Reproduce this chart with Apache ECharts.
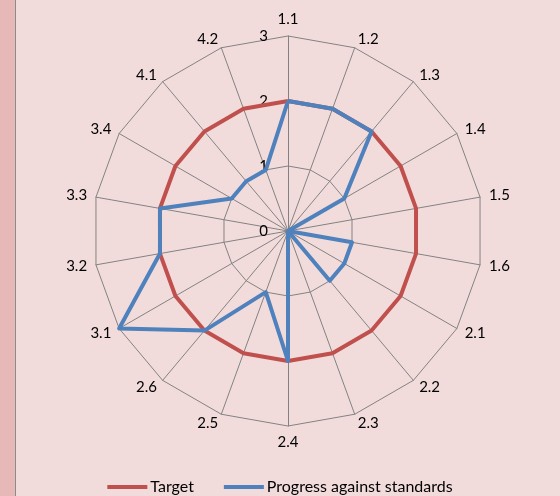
<!DOCTYPE html>
<html>
<head>
<meta charset="utf-8">
<script src="https://cdn.jsdelivr.net/npm/echarts@6/dist/echarts.min.js"></script>
<style>
html,body{margin:0;padding:0;background:#f2dcdb;}
#strip{position:absolute;left:0;top:0;width:15px;height:496px;background:#e6b9b8;border-right:1px solid #8c8c8c;}
#radarChart{position:absolute;left:0;top:0;width:560px;height:496px;}
</style>
</head>
<body>
<div id="strip"></div>
<div id="radarChart"></div>
<script>
var categories = ['1.1','1.2','1.3','1.4','1.5','1.6','2.1','2.2','2.3','2.4','2.5','2.6','3.1','3.2','3.3','3.4','4.1','4.2'];
var targetValues = [2,2,2,2,2,2,2,2,2,2,2,2,2,2,2,2,2,2];
var progressValues = [2,2,2,1,0,1,1,1,0,2,1,2,3,2,2,1,1,1];
var scaleLabels = ['0','1','2','3'];

var fontName = 'Lato, "Open Sans", sans-serif';
var radarChart = echarts.init(document.getElementById('radarChart'));

// echarts lays radar axes counter-clockwise; keep first at the top and reverse the rest
function clockwiseOrder(arr){
	return [arr[0]].concat(arr.slice(1).reverse());
}
var indicators = clockwiseOrder(categories).map(function(c){ return {name:c, min:0, max:3}; });

var option = {
	backgroundColor:'transparent',
	animation:false,
	radar:{
		center:[288,231],
		radius:195,
		startAngle:90,
		shape:'polygon',
		splitNumber:3,
		indicator:indicators,
		axisName:{
			color:'#000',
			fontSize:15,
			fontFamily:fontName
		},
		nameGap:9,
		splitLine:{lineStyle:{color:'#828282',width:1}},
		splitArea:{show:false},
		axisLine:{lineStyle:{color:'#828282',width:1}},
		axisTick:{show:false},
		axisLabel:{show:false}
	},
	polar:{
		center:[288,231],
		radius:195
	},
	angleAxis:{
		show:false,
		startAngle:90,
		min:0,
		max:360
	},
	radiusAxis:{
		min:0,
		max:3,
		interval:1,
		axisLine:{show:false},
		axisTick:{show:false},
		splitLine:{show:false},
		axisLabel:{
			show:true,
			color:'#000',
			fontSize:15,
			fontFamily:fontName,
			margin:20,
			formatter:function(v){ return scaleLabels[v]; }
		}
	},
	legend:{
		top:474,
		left:'center',
		icon:'rect',
		itemWidth:40,
		itemHeight:4,
		itemGap:30,
		textStyle:{color:'#000',fontSize:16,fontFamily:fontName,padding:[0,0,0,-2]},
		data:['Target','Progress against standards']
	},
	series:[{
		name:'Target',
		type:'radar',
		symbol:'none',
		lineStyle:{color:'#c0504d',width:4},
		itemStyle:{color:'#c0504d'},
		data:[{value:clockwiseOrder(targetValues),name:'Target'}]
	},{
		name:'Progress against standards',
		type:'radar',
		symbol:'none',
		lineStyle:{color:'#4f81bd',width:4},
		itemStyle:{color:'#4f81bd'},
		data:[{value:clockwiseOrder(progressValues),name:'Progress against standards'}]
	}]
};
radarChart.setOption(option);
</script>
</body>
</html>
